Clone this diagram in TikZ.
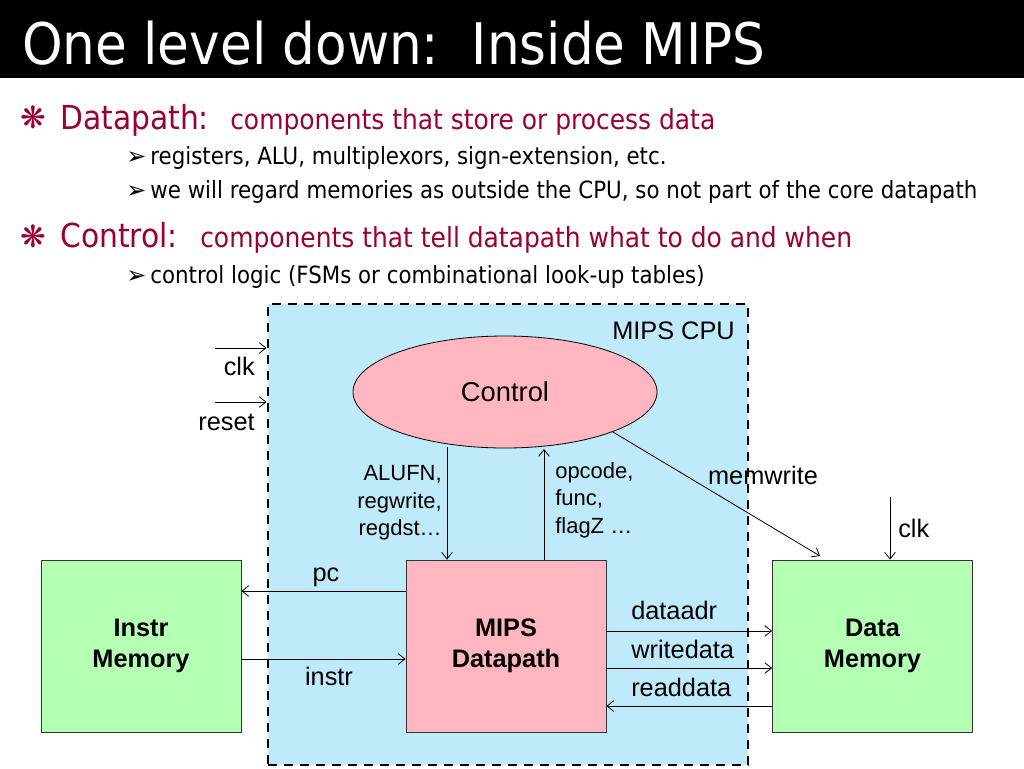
\documentclass[tikz,border=0pt]{standalone}
\usepackage{fontspec}
\setmainfont{Liberation Sans}
\newfontfamily\tah{DejaVu Sans Condensed}
\newfontfamily\dv{DejaVu Sans}
\usetikzlibrary{arrows.meta,shapes.geometric}
\definecolor{dred}{RGB}{153,0,51}
\definecolor{cpublue}{RGB}{190,234,250}
\definecolor{pinkc}{RGB}{255,182,193}
\definecolor{greenc}{RGB}{180,255,180}
\newcommand{\arrbul}{{\dv\fontsize{18}{18}\selectfont ➢}\hspace{3pt}}
\tikzset{
  arr/.style={draw=black, line width=0.6pt, -{Straight Barb[length=5pt,width=8pt]}},
  box/.style={draw=black!80, line width=0.6pt, minimum width=150pt, minimum height=129pt, inner sep=0pt, align=center, font=\fontsize{19}{23}\selectfont\bfseries},
  lbl/.style={font=\fontsize{19}{22}\selectfont, inner sep=0pt},
  slbl/.style={font=\fontsize{16.5}{20.5}\selectfont, inner sep=0pt},
  ttl/.style={font=\tah\fontsize{43}{50}\selectfont, text=white, inner sep=0pt, anchor=base west},
  big/.style={font=\tah\fontsize{24.8}{28}\selectfont, text=dred, inner sep=0pt, anchor=base west},
  mid/.style={font=\tah\fontsize{20.8}{24}\selectfont, text=dred, inner sep=0pt, anchor=base west},
  sub/.style={font=\tah\fontsize{17.8}{20}\selectfont, text=black, inner sep=0pt, anchor=base west},
  star/.style={font=\dv\bfseries\fontsize{23}{26}\selectfont, text=dred, inner sep=0pt, anchor=base west},
}
\begin{document}
\begin{tikzpicture}[x=0.75pt,y=-0.75pt]
\useasboundingbox (0,0) rectangle (1024,768);
\fill[white] (0,0) rectangle (1024,768);
% title bar
\fill[black] (0,0) rectangle (1024,78);
\node[ttl] (title) at (22,64) {One level down:\ \ Inside MIPS};
% bullets
\node[star] (s1) at (20,128) {❋};
\node[big] (b1) at (60,129) {Datapath:};
\node[mid] (b1t) at (230,129) {components that store or process data};
\node[sub] (b11) at (126,164) {\arrbul registers, ALU, multiplexors, sign-extension, etc.};
\node[sub] (b12) at (126,198) {\arrbul we will regard memories as outside the CPU, so not part of the core datapath};
\node[star] (s2) at (20,247) {❋};
\node[big] (b2) at (60,247) {Control:};
\node[mid] (b2t) at (200,247) {components that tell datapath what to do and when};
\node[sub] (b21) at (126,283) {\arrbul control logic (FSMs or combinational look-up tables)};
% CPU box
\node[draw=black, fill=cpublue, line width=2.2pt, dash pattern=on 7pt off 5pt, minimum width=360pt, minimum height=345.75pt, inner sep=0pt] (cpu) at (508,534.5) {};
\node[lbl, anchor=north east] (cpulbl) at (735,322) {MIPS CPU};
% control
\node[ellipse, draw=black, line width=0.6pt, fill=pinkc, minimum width=228pt, minimum height=84pt, inner sep=0pt, font=\fontsize{20.5}{24}\selectfont] (ctrl) at (505,392) {Control};
% datapath
\node[box, fill=pinkc] (dp) at (506,646) {MIPS\\Datapath};
\node[box, fill=greenc] (im) at (141,646) {Instr\\Memory};
\node[box, fill=greenc] (dm) at (872.5,646) {Data\\Memory};
% clk / reset
\coordinate (clkin) at (215,348);
\coordinate (rstin) at (215,402);
\draw[arr] (clkin) -- (clkin -| cpu.west);
\draw[arr] (rstin) -- (rstin -| cpu.west);
\node[lbl, anchor=east] (clkl) at (255,366) {clk};
\node[lbl, anchor=east] (rstl) at (255,422) {reset};
% control signals
\coordinate (aluc) at (447,447);
\draw[arr] (aluc) -- (aluc |- dp.north);
\node[slbl, anchor=east, align=right] (alul) at (442,503) {ALUFN,\\regwrite,\\regdst…};
\coordinate (opc) at (544,449);
\draw[arr] (opc |- dp.north) -- (opc);
\node[slbl, anchor=west, align=left] (opl) at (555,500) {opcode,\\func,\\flagZ …};
\coordinate (mwend) at (820,556);
\draw[arr] (ctrl.south east) -- (mwend);
\node[lbl] (mwl) at (763,475) {memwrite};
\coordinate (dclk) at (890,497);
\draw[arr] (dclk) -- (dclk |- dm.north);
\node[lbl, anchor=west] (dclkl) at (898,528) {clk};
% pc / instr
\coordinate (pcy) at (0,591);
\draw[arr] (dp.west |- pcy) -- (im.east |- pcy);
\node[lbl] (pcl) at (326,577) {pc};
\coordinate (iny) at (0,659);
\draw[arr] (im.east |- iny) -- (dp.west |- iny);
\node[lbl] (inl) at (329,676) {instr};
% data memory signals
\coordinate (day) at (0,631);
\coordinate (wdy) at (0,668);
\coordinate (rdy) at (0,706);
\draw[arr] (dp.east |- day) -- (dm.west |- day);
\draw[arr] (dp.east |- wdy) -- (dm.west |- wdy);
\draw[arr] (dm.west |- rdy) -- (dp.east |- rdy);
\node[lbl, anchor=west] (dal) at (631,610) {dataadr};
\node[lbl, anchor=west] (wdl) at (631,649) {writedata};
\node[lbl, anchor=west] (rdl) at (631,687) {readdata};
\end{tikzpicture}
\end{document}
